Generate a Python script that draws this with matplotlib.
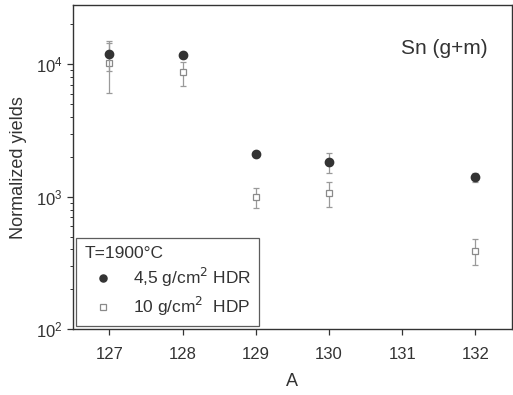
import matplotlib.pyplot as plt
import numpy as np

plt.rcParams['font.family'] = ['Liberation Sans', 'DejaVu Sans']

# mass numbers
mass_a = [127, 128, 129, 130, 132]

# 4,5 g/cm2 HDR target (filled circles)
hdr_yield = [1.19e4, 1.17e4, 2.09e3, 1.82e3, 1.40e3]
hdr_err = [3.0e3, 6.0e2, 1.0e2, 3.0e2, 1.0e2]

# 10 g/cm2 HDP target (open squares)
hdp_yield = [1.03e4, 8.7e3, 9.9e2, 1.06e3, 3.9e2]
hdp_err = [4.2e3, 1.8e3, 1.7e2, 2.2e2, 8.5e1]

x_ticks = [127, 128, 129, 130, 131, 132]

fig = plt.figure(figsize=(5.13, 3.95), dpi=100)
ax = fig.add_axes([0.142, 0.167, 0.856, 0.820])

sq = ax.errorbar(mass_a, hdp_yield, yerr=hdp_err, fmt='s', ms=5, mfc='white',
                 mec='#8a8a8a', mew=0.9, ecolor='#9a9a9a', elinewidth=0.9,
                 capsize=2.5, capthick=0.9, zorder=2)
ci = ax.errorbar(mass_a, hdr_yield, yerr=hdr_err, fmt='o', ms=6, mfc='#333333',
                 mec='#333333', ecolor='#9a9a9a', elinewidth=0.9,
                 capsize=2.5, capthick=0.9, zorder=3)

ax.set_yscale('log')
ax.set_ylim(100, 2.8e4)
ax.set_xlim(126.5, 132.5)
ax.set_xticks(x_ticks)
ax.set_xticklabels([str(t) for t in x_ticks])

ax.tick_params(axis='both', which='major', labelsize=12, color='#333333',
               labelcolor='#333333', direction='out', length=4, width=0.9)
ax.tick_params(axis='x', which='major', pad=9)
ax.tick_params(axis='y', which='minor', direction='out', length=2.5, width=0.7,
               color='#333333')
for sp in ax.spines.values():
    sp.set_color('#333333')
    sp.set_linewidth(1.0)

ax.set_xlabel('A', fontsize=13, color='#333333', labelpad=8)
ax.set_ylabel('Normalized yields', fontsize=13, color='#333333', labelpad=6)

ax.text(0.945, 0.865, 'Sn (g+m)', transform=ax.transAxes, fontsize=15,
        color='#333333', ha='right', va='center')

leg = ax.legend([ci[0], sq[0]], ['4,5 g/cm$^2$ HDR', '10 g/cm$^2$  HDP'],
                loc='lower left', title='T=1900°C', fontsize=12.5,
                title_fontsize=12.5, frameon=True, fancybox=False,
                edgecolor='#333333', borderaxespad=0.2, handletextpad=0.6,
                borderpad=0.45, labelspacing=0.3, handlelength=2.2,
                markerscale=0.85)
leg._legend_box.align = 'left'
leg.get_frame().set_linewidth(0.9)
for t in leg.get_texts():
    t.set_color('#333333')
leg.get_title().set_color('#333333')

fig.savefig('out.png', dpi=100)
